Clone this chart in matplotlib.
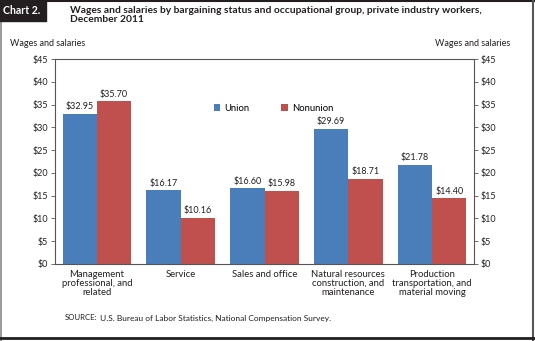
import matplotlib.pyplot as plt
import numpy as np
from matplotlib.patches import Rectangle

# data
categories = ["Management\nprofessional, and\nrelated", "Service", "Sales and office",
              "Natural resources\nconstruction, and\nmaintenance",
              "Production\ntransportation, and\nmaterial moving"]
union = [32.95, 16.17, 16.60, 29.69, 21.78]
nonunion = [35.70, 10.16, 15.98, 18.71, 14.40]
yticks = [0, 5, 10, 15, 20, 25, 30, 35, 40, 45]

blue = "#4a7ebb"
red = "#c0504d"
txt = "#231f20"

plt.rcParams['font.family'] = ['Lato', 'DejaVu Sans']

fig = plt.figure(figsize=(5.35, 3.41), dpi=100)
ax = fig.add_axes([55 / 535, 1 - 264 / 341, 419 / 535, 205 / 341])

x = np.arange(len(categories))
w = 0.41
b1 = ax.bar(x - w / 2, union, w, color=blue, label="Union")
b2 = ax.bar(x + w / 2, nonunion, w, color=red, label="Nonunion")

for bars, vals in ((b1, union), (b2, nonunion)):
    for r, v in zip(bars, vals):
        ax.text(r.get_x() + r.get_width() / 2, v + 0.6, f"${v:.2f}",
                ha="center", va="bottom", fontsize=6.5, color=txt)

ax.set_xlim(-0.5, len(categories) - 0.5)
ax.set_ylim(0, 45)
ax.set_yticks(yticks)
ax.set_yticklabels([f"${t}" for t in yticks])
ax.set_xticks(x)
ax.set_xticklabels(categories, fontsize=6.8, color=txt, linespacing=1.0, va="top")
ax.tick_params(axis="x", length=0, pad=4)
ax.tick_params(axis="y", length=3, width=0.6, labelsize=6.5, labelcolor=txt,
               color="#555555", direction="out", pad=2)
for s in ax.spines.values():
    s.set_color("#555555")
    s.set_linewidth(0.8)

ax2 = ax.twinx()
ax2.set_ylim(0, 45)
ax2.set_yticks(yticks)
ax2.set_yticklabels([f"${t}" for t in yticks])
ax2.tick_params(axis="y", length=3, width=0.6, labelsize=6.5, labelcolor=txt,
                color="#555555", direction="out", pad=2)
for s in ax2.spines.values():
    s.set_visible(False)

ax.legend(loc="upper left", bbox_to_anchor=(0.37, 0.8), ncol=2, frameon=False,
          fontsize=6.8, handlelength=0.7, handleheight=0.7, handletextpad=0.4,
          columnspacing=3.4, borderaxespad=0)

# axis captions
fig.text(10 / 535, 1 - 44 / 341, "Wages and salaries", fontsize=6.5, color=txt,
         ha="left", va="center")
fig.text(510 / 535, 1 - 44 / 341, "Wages and salaries", fontsize=6.5, color=txt,
         ha="right", va="center")

# title block
fig.patches.append(Rectangle((0, 1 - 21 / 341), 46 / 535, 21 / 341,
                             transform=fig.transFigure, color="#231f20", zorder=5))
fig.text(3 / 535, 1 - 10.5 / 341, "Chart 2.", color="white", fontsize=7.6, weight="bold",
         ha="left", va="center", zorder=6)
fig.text(70 / 535, 1 - 6 / 341,
         "Wages and salaries by bargaining status and occupational group, private industry workers,\nDecember 2011",
         fontsize=7.4, weight="bold", color=txt, ha="left", va="top", linespacing=1.0)

fig.text(65 / 535, 1 - 318 / 341, "SOURCE:", fontsize=5.6, color=txt, va="center")
fig.text(100 / 535, 1 - 318 / 341,
         "U.S. Bureau of Labor Statistics, National Compensation Survey.",
         fontsize=6.0, color=txt, va="center")

# outer frame
fig.add_artist(plt.Line2D([0, 1], [1 - 1 / 341] * 2, transform=fig.transFigure,
                          color="#231f20", lw=1.5))
fig.add_artist(plt.Line2D([1 / 535] * 2, [0, 1], transform=fig.transFigure,
                          color="#888888", lw=1.2))
fig.add_artist(plt.Line2D([533 / 535] * 2, [0, 1], transform=fig.transFigure,
                          color="#555555", lw=1.5))
fig.add_artist(plt.Line2D([0, 1], [3 / 341] * 2, transform=fig.transFigure,
                          color="#231f20", lw=2.0))

fig.savefig("out.png", dpi=100)
